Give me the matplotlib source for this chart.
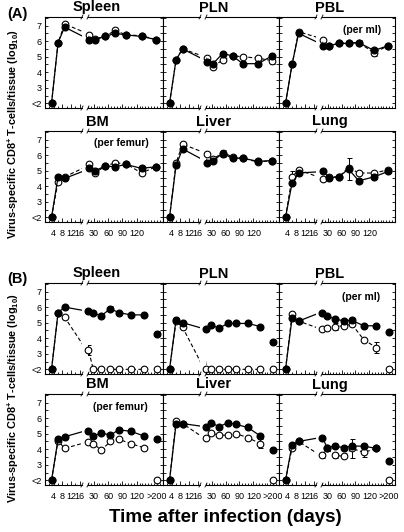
import matplotlib
matplotlib.use('Agg')
import matplotlib.pyplot as plt
from matplotlib.lines import Line2D
from matplotlib.ticker import FixedLocator, MultipleLocator

plt.rcParams['font.family'] = ['Liberation Sans', 'DejaVu Sans']
plt.rcParams['mathtext.fontset'] = 'custom'
plt.rcParams['mathtext.rm'] = 'Liberation Sans'
plt.rcParams['mathtext.bf'] = 'Liberation Sans:bold'
plt.rcParams['mathtext.it'] = 'Liberation Sans:italic'

# ---------------- data ----------------
EARLY_DAYS = [3, 6, 9]
A_LATE_DAYS = [21, 33, 54, 75, 97, 130, 160]
B_LATE_DAYS = [19, 29, 46, 65, 82, 108, 135]

Y_TICKS = [2, 3, 4, 5, 6, 7]
Y_TICK_LABELS = ['<2', '3', '4', '5', '6', '7']
EARLY_TICKS = [4, 8, 12, 16]
LATE_TICKS = [30, 60, 90, 120]
LATE_TICK_LABELS = ['30', '60', '90', '120']
B_LATE_TICK_LABELS = ['30', '60', '90', '120', '>200']

TISSUES = ['Spleen', 'PLN', 'PBL', 'BM', 'Liver', 'Lung']
NOTES = {'PBL': '(per ml)', 'BM': '(per femur)'}

# (A) early (3) + late (7) values, log10
A_SPLEEN_FILLED = [2.0, 5.9, 6.9, 6.05, 6.1, 6.3, 6.5, 6.4, 6.3, 6.1]
A_SPLEEN_OPEN = [2.0, 5.9, 7.1, 6.4, 6.15, 6.3, 6.7, 6.4, 6.35, 6.1]
A_PLN_FILLED = [2.0, 4.8, 5.5, 4.65, 4.55, 5.2, 5.05, 4.55, 4.55, 5.05]
A_PLN_OPEN = [2.0, 4.8, 5.5, 4.9, 4.35, 4.8, 5.05, 5.0, 4.9, 4.75]
A_PBL_FILLED = [2.0, 4.5, 6.5, 5.7, 5.7, 5.85, 5.85, 5.9, 5.4, 5.7]
A_PBL_OPEN = [2.0, 4.5, 6.6, 6.1, 5.7, 5.85, 5.9, 5.9, 5.25, 5.7]
A_BM_FILLED = [2.0, 4.6, 4.5, 5.15, 5.0, 5.3, 5.25, 5.4, 5.15, 5.25]
A_BM_OPEN = [2.0, 4.3, 4.6, 5.4, 4.85, 5.3, 5.5, 5.45, 4.85, 5.25]
A_LIVER_FILLED = [2.0, 5.35, 6.4, 5.5, 5.65, 6.1, 5.8, 5.8, 5.6, 5.65]
A_LIVER_OPEN = [2.0, 5.5, 6.7, 6.05, 5.75, 6.15, 5.9, 5.8, 5.55, 5.65]
A_LUNG_FILLED = [2.0, 4.2, 4.85, 4.95, 4.55, 4.6, 5.1, 4.35, 4.6, 4.95]
A_LUNG_OPEN = [2.0, 4.6, 5.05, 4.45, 4.6, 4.6, 5.2, 4.85, 4.85, 5.05]

# error bars (index -> sem)
A_SPLEEN_ERR_F, A_SPLEEN_ERR_O = {}, {}
A_PLN_ERR_F, A_PLN_ERR_O = {}, {9: 0.2}
A_PBL_ERR_F, A_PBL_ERR_O = {}, {7: 0.15, 8: 0.2}
A_BM_ERR_F, A_BM_ERR_O = {}, {}
A_LIVER_ERR_F, A_LIVER_ERR_O = {5: 0.25}, {}
A_LUNG_ERR_F, A_LUNG_ERR_O = {6: 0.7}, {1: 0.35}

# (B) early (3) + late (7) values, plus '>200' value
B_SPLEEN_FILLED = [2.0, 5.65, 6.0, 5.75, 5.6, 5.45, 5.9, 5.65, 5.5, 5.5]
B_SPLEEN_OPEN = [2.0, 5.6, 5.35, 3.25, 2.0, 2.0, 2.0, 2.0, 2.0, 2.0]
B_PLN_FILLED = [2.0, 5.2, 5.0, 4.6, 4.85, 4.65, 4.95, 4.95, 4.95, 4.75]
B_PLN_OPEN = [2.0, 5.1, 4.7, 2.0, 2.0, 2.0, 2.0, 2.0, 2.0, 2.0]
B_PBL_FILLED = [2.0, 5.3, 5.1, 5.65, 5.4, 5.25, 5.1, 5.15, 4.8, 4.8]
B_PBL_OPEN = [2.0, 5.55, 5.1, 4.6, 4.65, 4.75, 4.8, 4.9, 3.9, 3.4]
B_BM_FILLED = [2.0, 4.65, 4.8, 5.2, 4.85, 5.05, 4.9, 5.25, 5.15, 4.85]
B_BM_OPEN = [2.0, 4.55, 4.05, 4.45, 4.35, 3.95, 4.5, 4.65, 4.35, 4.1]
B_LIVER_FILLED = [2.0, 5.65, 5.65, 5.45, 5.7, 5.45, 5.7, 5.6, 5.4, 4.85]
B_LIVER_OPEN = [2.0, 5.8, 5.65, 4.7, 5.05, 4.9, 4.9, 5.0, 4.75, 4.35]
B_LUNG_FILLED = [2.0, 4.3, 4.5, 4.75, 4.1, 4.2, 4.1, 4.2, 4.2, 4.05]
B_LUNG_OPEN = [2.0, 4.1, 4.5, 3.6, 4.05, 3.6, 3.55, 4.05, 3.8, 4.05]

B_GT200_FILLED = [4.3, 3.75, 4.4, 4.65, 3.95, 3.25]
B_GT200_OPEN = [2.0, 2.0, 2.0, 2.0, 2.0, 2.0]
B_GT200_ERR_F = [0.15, 0.0, 0.15, 0.0, 0.0, 0.0]

B_SPLEEN_ERR_F, B_SPLEEN_ERR_O = {6: 0.15}, {3: 0.3}
B_PLN_ERR_F, B_PLN_ERR_O = {}, {}
B_PBL_ERR_F, B_PBL_ERR_O = {}, {5: 0.2, 9: 0.35}
B_BM_ERR_F, B_BM_ERR_O = {}, {5: 0.1, 9: 0.1}
B_LIVER_ERR_F, B_LIVER_ERR_O = {}, {9: 0.3}
B_LUNG_ERR_F, B_LUNG_ERR_O = {}, {3: 0.15, 5: 0.15, 7: 0.6, 8: 0.3}

A_FILLED = [A_SPLEEN_FILLED, A_PLN_FILLED, A_PBL_FILLED, A_BM_FILLED, A_LIVER_FILLED, A_LUNG_FILLED]
A_OPEN = [A_SPLEEN_OPEN, A_PLN_OPEN, A_PBL_OPEN, A_BM_OPEN, A_LIVER_OPEN, A_LUNG_OPEN]
A_ERR_F = [A_SPLEEN_ERR_F, A_PLN_ERR_F, A_PBL_ERR_F, A_BM_ERR_F, A_LIVER_ERR_F, A_LUNG_ERR_F]
A_ERR_O = [A_SPLEEN_ERR_O, A_PLN_ERR_O, A_PBL_ERR_O, A_BM_ERR_O, A_LIVER_ERR_O, A_LUNG_ERR_O]
B_FILLED = [B_SPLEEN_FILLED, B_PLN_FILLED, B_PBL_FILLED, B_BM_FILLED, B_LIVER_FILLED, B_LUNG_FILLED]
B_OPEN = [B_SPLEEN_OPEN, B_PLN_OPEN, B_PBL_OPEN, B_BM_OPEN, B_LIVER_OPEN, B_LUNG_OPEN]
B_ERR_F = [B_SPLEEN_ERR_F, B_PLN_ERR_F, B_PBL_ERR_F, B_BM_ERR_F, B_LIVER_ERR_F, B_LUNG_ERR_F]
B_ERR_O = [B_SPLEEN_ERR_O, B_PLN_ERR_O, B_PBL_ERR_O, B_BM_ERR_O, B_LIVER_ERR_O, B_LUNG_ERR_O]

# ---------------- layout ----------------
W, H = 404, 532
fig = plt.figure(figsize=(W / 100, H / 100), dpi=100)
fig.patch.set_facecolor('white')

COL_L = [45, 163, 279]
COL_R = [163, 279, 395]
EARLY_W = 37
GAP = 6
ROWS_A = [(17, 108), (131, 222)]
ROWS_B = [(283, 374), (394, 485)]
YLIM = (1.7, 7.55)
EARLY_XLIM = (0, 17)
LATE_XLIM = (18, 175)
GT200_POS = 162
TICK_FS = 6.5
MS = 4.8


def px_axes(x0, y0, x1, y1):
    return fig.add_axes([x0 / W, 1 - y1 / H, (x1 - x0) / W, (y1 - y0) / H])


def fig_line(xs, ys):
    fig.add_artist(Line2D([x / W for x in xs], [1 - y / H for y in ys],
                          transform=fig.transFigure, color='k', lw=0.6))


def draw_series(ax, xs, ys, errs, filled, xlim):
    z = 3 if filled else 2
    ex = [xs[i] for i in errs]
    ey = [ys[i] for i in errs]
    ee = [errs[i] for i in errs]
    if ex:
        ax.errorbar(ex, ey, yerr=ee, fmt='none', ecolor='k', elinewidth=0.7,
                    capsize=1.8, capthick=0.7, zorder=z)
    # connecting line (clipped at the axis break)
    if filled:
        ax.plot(xs, ys, color='k', lw=0.9, zorder=z + 0.2)
    else:
        ax.plot(xs, ys, color='k', lw=0.8, ls=(0, (3.5, 2.2)), zorder=z + 0.2)
    # markers inside this segment, not clipped
    mx = [x for x in xs if xlim[0] <= x <= xlim[1]]
    my = [y for x, y in zip(xs, ys) if xlim[0] <= x <= xlim[1]]
    if filled:
        ax.plot(mx, my, ls='none', marker='o', ms=MS, mfc='k', mec='k',
                zorder=z + 0.5, clip_on=False)
    else:
        ax.plot(mx, my, ls='none', marker='o', ms=MS, mfc='white', mec='k',
                mew=0.8, zorder=z + 0.5, clip_on=False)


def panel(col, row, title, filled, opened, err_f, err_o, late_days, bottom_labels,
          gt200=None):
    L, R = COL_L[col], COL_R[col]
    top, bot = row
    axe = px_axes(L, top, L + EARLY_W, bot)
    axl = px_axes(L + EARLY_W + GAP, top, R, bot)
    days = EARLY_DAYS + late_days
    for ax, xl in ((axe, EARLY_XLIM), (axl, LATE_XLIM)):
        ax.set_xlim(*xl)
        ax.set_ylim(*YLIM)
        draw_series(ax, days, opened, err_o, False, xl)
        draw_series(ax, days, filled, err_f, True, xl)
        for s in ax.spines.values():
            s.set_linewidth(0.8)
        ax.yaxis.set_major_locator(FixedLocator(Y_TICKS))
        ax.yaxis.set_minor_locator(MultipleLocator(0.5))
        ax.tick_params(axis='both', which='both', direction='in', width=0.6,
                       labelsize=TICK_FS, top=False)
        ax.tick_params(axis='y', which='both', length=2.5, pad=2.5)
        ax.tick_params(axis='x', which='major', length=3.2, pad=5)
        ax.tick_params(axis='x', which='minor', length=1.8)
    axe.spines['right'].set_visible(False)
    axl.spines['left'].set_visible(False)
    axe.tick_params(axis='y', which='both', left=True, right=False,
                    labelleft=(col == 0))
    axl.tick_params(axis='y', which='both', left=False, right=True,
                    labelleft=False, labelright=False)
    axe.set_yticklabels(Y_TICK_LABELS)
    axe.xaxis.set_major_locator(FixedLocator(EARLY_TICKS))
    axe.xaxis.set_minor_locator(MultipleLocator(2))
    if gt200 is not None:
        axl.xaxis.set_major_locator(FixedLocator(LATE_TICKS + [GT200_POS]))
        axl.set_xticklabels(B_LATE_TICK_LABELS)
        fv, ov, fe = gt200
        axl.plot([GT200_POS], [ov], ls='none', marker='o', ms=MS, mfc='white',
                 mec='k', mew=0.8, zorder=2.5, clip_on=False)
        if fe > 0:
            axl.errorbar([GT200_POS], [fv], yerr=[fe], fmt='none', ecolor='k',
                         elinewidth=0.7, capsize=1.8, capthick=0.7, zorder=3)
        axl.plot([GT200_POS], [fv], ls='none', marker='o', ms=MS, mfc='k',
                 mec='k', zorder=3.5)
    else:
        axl.xaxis.set_major_locator(FixedLocator(LATE_TICKS))
        axl.set_xticklabels(LATE_TICK_LABELS)
    axl.xaxis.set_minor_locator(MultipleLocator(6))
    axe.set_xticklabels([str(t) for t in EARLY_TICKS])
    if not bottom_labels:
        axe.tick_params(axis='x', labelbottom=False)
        axl.tick_params(axis='x', labelbottom=False)
    # small break marks on the top and bottom spines
    xe, xl0 = L + EARLY_W, L + EARLY_W + GAP
    for yb in (top, bot):
        fig_line([xe - 1, xe + 1], [yb + 2, yb - 2])
        fig_line([xl0 - 1, xl0 + 1], [yb + 2, yb - 2])
    # title
    fig.text((L + 0.44 * (R - L)) / W, 1 - (top - 2.5) / H, title, ha='center',
             va='bottom', fontsize=10.5, fontweight='bold')


for r in range(2):
    for c in range(3):
        k = r * 3 + c
        panel(c, ROWS_A[r], TISSUES[k], A_FILLED[k], A_OPEN[k], A_ERR_F[k], A_ERR_O[k],
              A_LATE_DAYS, bottom_labels=(r == 1))
        panel(c, ROWS_B[r], TISSUES[k], B_FILLED[k], B_OPEN[k], B_ERR_F[k], B_ERR_O[k],
              B_LATE_DAYS, bottom_labels=(r == 1),
              gt200=(B_GT200_FILLED[k], B_GT200_OPEN[k], B_GT200_ERR_F[k]))

# notes
for (x, y, s) in [(362, 30, NOTES['PBL']), (121, 143, NOTES['BM']),
                  (361, 297, NOTES['PBL']), (120, 407, NOTES['BM'])]:
    fig.text(x / W, 1 - y / H, s, ha='center', va='center', fontsize=7.5,
             fontweight='bold')

fig.text(17 / W, 1 - 14 / H, '(A)', ha='center', va='center', fontsize=10.5,
         fontweight='bold')
fig.text(17 / W, 1 - 279 / H, '(B)', ha='center', va='center', fontsize=10.5,
         fontweight='bold')

ylab = r'Virus-specific CD8$^{\mathbf{+}}$ T-cells/tissue (log$_{\mathbf{10}}$)'
fig.text(13 / W, 1 - 134 / H, ylab, rotation=90, ha='center', va='center',
         fontsize=7.8, fontweight='bold')
fig.text(13 / W, 1 - 398 / H, ylab, rotation=90, ha='center', va='center',
         fontsize=7.8, fontweight='bold')

fig.text(225 / W, 1 - 518 / H, 'Time after infection (days)', ha='center',
         va='center', fontsize=13.5, fontweight='bold')

fig.savefig('out.png', dpi=100, facecolor='white')
